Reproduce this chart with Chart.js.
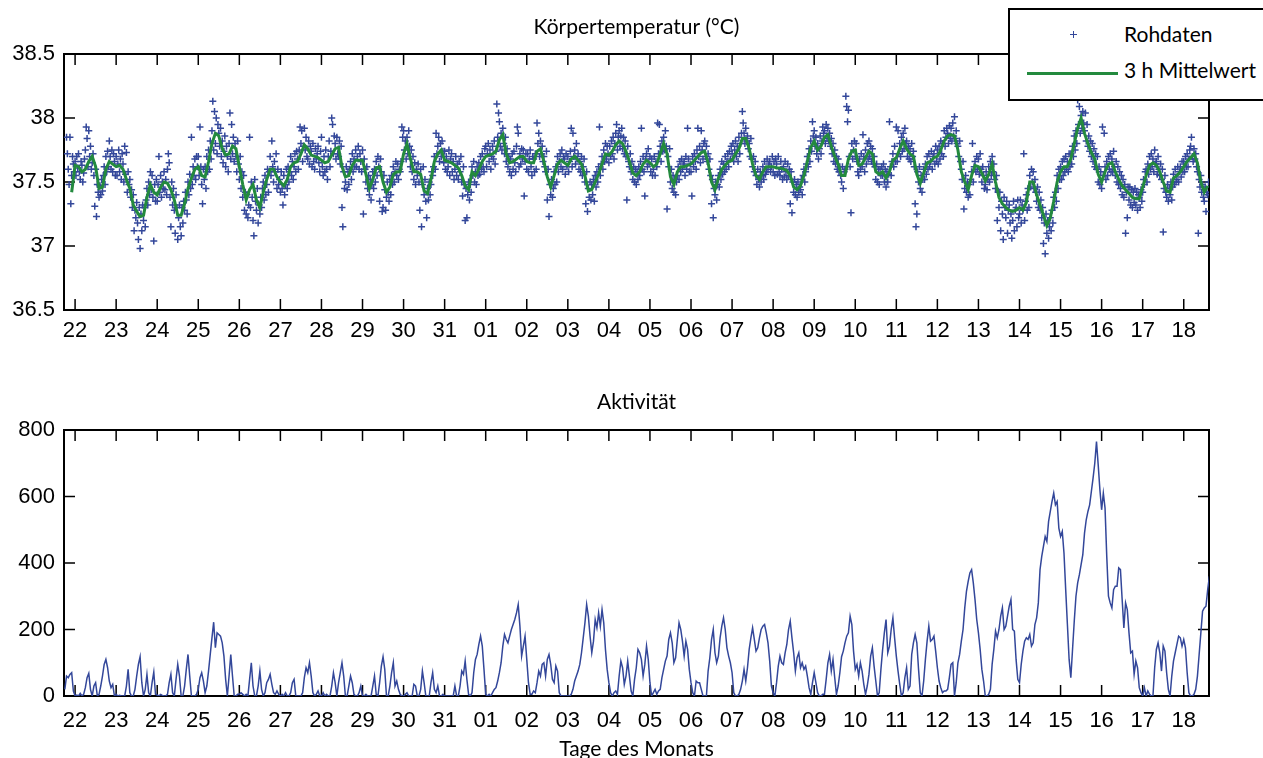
<!DOCTYPE html>
<html lang="de">
<head>
<meta charset="utf-8">
<title>Körpertemperatur und Aktivität</title>
<script src="https://cdn.jsdelivr.net/npm/chart.js@4.4.1/dist/chart.umd.min.js"></script>
<style>
  html, body { margin: 0; padding: 0; background: #fff; overflow: hidden; }
  #page { position: relative; width: 1263px; height: 758px; overflow: hidden; }
  #tempChart { position: absolute; left: 0; top: 0; }
  #actChart { position: absolute; left: 0; top: 370px; }
  #legend {
    position: absolute; left: 1008px; top: 8px; width: 270px; height: 89px;
    border: 2px solid #000; background: #fff;
    font-family: Lato, "Liberation Sans", sans-serif; font-size: 21px; color: #000;
  }
  #legend .lbl { position: absolute; left: 114px; height: 24px; line-height: 24px; white-space: nowrap; }
  #legend .mark { position: absolute; left: 60px; top: 21px; width: 7px; height: 7px; }
  #legend .mark i { position: absolute; background: #33479a; }
  #legend .mark .h { left: 0; top: 2.75px; width: 7px; height: 1.5px; }
  #legend .mark .v { left: 2.75px; top: 0; width: 1.5px; height: 7px; }
  #legend .line { position: absolute; left: 17px; top: 62px; width: 91px; height: 3px; background: #238a3e; }
</style>
</head>
<body>
<div id="page">
  <canvas id="tempChart" width="1263" height="370"></canvas>
  <canvas id="actChart" width="1263" height="392"></canvas>
  <div id="legend">
    <span class="mark"><i class="h"></i><i class="v"></i></span>
    <span class="lbl" style="top:12px">Rohdaten</span>
    <span class="line"></span>
    <span class="lbl" style="top:48px">3 h Mittelwert</span>
  </div>
</div>
<script>
// ---- data ----
// day index 0 = 22nd (00:00); labels at midnight of each day
const dayLabels = ["22","23","24","25","26","27","28","29","30","31",
                   "01","02","03","04","05","06","07","08","09","10",
                   "11","12","13","14","15","16","17","18"];

// raw temperature readings (°C), one every 30 min, first one 5 h before day 22
const rawStartHour = -5;
const rawStepHours = 0.5;
const rawTemp = [
  37.85,37.72,37.60,37.48,37.85,37.33,37.55,37.70,37.64,37.58,
  // 22
  37.66,37.55,37.70,37.61, 37.72,37.58,37.52,37.66, 37.63,37.50,37.57,37.68, 37.75,37.93,37.84,37.62, 37.90,37.70,37.78,37.60, 37.65,37.72,37.55,37.31,
  37.60,37.23,37.48,37.42, 37.38,37.47,37.40,37.52, 37.43,37.55,37.62,37.48, 37.70,37.58,37.74,37.62, 37.82,37.70,37.60,37.75, 37.58,37.72,37.66,37.55,
  // 23
  37.70,37.55,37.64,37.75, 37.58,37.68,37.52,37.72, 37.64,37.50,37.78,37.56, 37.73,37.42,37.58,37.48, 37.52,37.38,37.44,37.30, 37.40,37.12,37.28,37.22,
  37.34,37.18,37.05,37.30, 36.98,37.25,37.12,37.32, 37.20,37.30,37.15,37.36, 37.45,37.32,37.50,37.40, 37.58,37.44,37.55,37.38, 37.04,37.48,37.35,37.52,
  // 24
  37.35,37.48,37.70,37.42, 37.55,37.38,37.50,37.45, 37.58,37.44,37.52,37.40, 37.60,37.72,37.65,37.38, 37.15,37.50,37.32,37.45, 37.28,37.10,37.40,37.30,
  37.05,37.22,37.32,37.15, 37.08,37.30,37.18,37.35, 37.28,37.42,37.36,37.25, 37.50,37.40,37.56,37.45, 37.85,37.48,37.62,37.55, 37.68,37.52,37.70,37.62,
  // 25
  37.70,37.55,37.93,37.62, 37.48,37.33,37.60,37.52, 37.62,37.45,37.70,37.58, 37.75,37.60,37.82,37.68, 37.90,38.13,37.75,38.05, 37.80,38.00,37.72,37.95,
  37.88,37.78,37.92,37.70, 37.82,37.65,37.74,37.86, 37.62,37.78,37.70,37.58, 37.80,38.04,37.68,37.95, 37.72,37.85,37.66,37.80, 37.70,37.58,37.82,37.64,
  // 26
  37.52,37.70,37.45,37.58, 37.38,37.55,37.28,37.42, 37.25,37.40,37.22,37.32, 37.85,37.30,37.50,37.38, 37.20,37.08,37.52,37.35, 37.28,37.45,37.18,37.32,
  37.25,37.38,37.30,37.45, 37.50,37.36,37.55,37.40, 37.48,37.60,37.42,37.58, 37.70,37.55,37.82,37.62, 37.50,37.66,37.58,37.72, 37.45,37.60,37.48,37.52,
  // 27
  37.42,37.58,37.45,37.32, 37.55,37.40,37.48,37.60, 37.45,37.62,37.50,37.58, 37.70,37.55,37.66,37.52, 37.62,37.72,37.58,37.74, 37.68,37.60,37.75,37.93,
  37.80,37.90,37.66,37.78, 37.92,37.75,37.85,37.70, 37.68,37.82,37.64,37.78, 37.74,37.62,37.80,37.66, 37.60,37.76,37.68,37.72, 37.78,37.65,37.58,37.74,
  // 28
  37.85,37.62,37.55,37.70, 37.58,37.75,37.60,37.52, 37.70,37.82,37.62,37.74, 38.00,37.95,37.72,37.86, 37.80,37.68,37.85,37.72, 37.70,37.82,37.64,37.78,
  37.30,37.15,37.58,37.45, 37.50,37.62,37.44,37.58, 37.48,37.60,37.66,37.52, 37.72,37.58,37.68,37.62, 37.75,37.62,37.70,37.78, 37.60,37.72,37.66,37.58,
  // 29
  37.75,37.25,37.68,37.60, 37.50,37.62,37.45,37.55, 37.40,37.52,37.36,37.48, 37.58,37.45,37.60,37.50, 37.66,37.55,37.70,37.62, 37.35,37.68,37.58,37.27,
  37.30,37.55,37.44,37.28, 37.38,37.50,37.42,37.35, 37.52,37.40,37.55,37.48, 37.62,37.50,37.58,37.66, 37.55,37.64,37.52,37.60, 37.58,37.66,37.93,37.85,
  // 30
  37.90,37.75,37.82,37.68, 37.85,37.72,37.90,37.78, 37.62,37.75,37.58,37.70, 37.52,37.65,37.48,37.60, 37.55,37.64,37.50,37.28, 37.60,37.15,37.48,37.62,
  37.40,37.52,37.35,37.22, 37.45,37.36,37.50,37.40, 37.48,37.58,37.55,37.62, 37.70,37.60,37.88,37.72, 37.78,37.85,37.66,37.80, 37.70,37.82,37.74,37.65,
  // 31
  37.74,37.60,37.70,37.58, 37.62,37.75,37.55,37.68, 37.72,37.58,37.66,37.52, 37.60,37.70,37.55,37.64, 37.52,37.66,37.58,37.70, 37.50,37.39,37.62,37.48,
  37.20,37.45,37.22,37.40, 37.50,37.36,37.48,37.42, 37.62,37.55,37.66,37.50, 37.58,37.48,37.62,37.55, 37.65,37.56,37.70,37.60, 37.72,37.62,37.58,37.76,
  // 01
  37.78,37.62,37.72,37.80, 37.66,37.75,37.60,37.70, 37.78,37.68,37.82,37.64, 37.74,38.11,37.85,38.04, 37.97,37.78,37.88,37.75, 37.92,37.80,37.72,37.85,
  37.66,37.76,37.62,37.70, 37.58,37.68,37.55,37.72, 37.60,37.74,37.65,37.58, 37.78,37.93,37.88,37.62, 37.72,37.64,37.76,37.68, 37.75,37.39,37.66,37.72,
  // 02
  37.60,37.72,37.58,37.68, 37.75,37.62,37.55,37.70, 37.68,37.58,37.72,37.60, 37.96,37.80,37.88,37.70, 37.82,37.72,37.78,37.66, 37.70,37.62,37.58,37.74,
  37.36,37.60,37.23,37.48, 37.40,37.52,37.38,37.45, 37.58,37.48,37.62,37.50, 37.70,37.58,37.66,37.72, 37.62,37.75,37.60,37.70, 37.68,37.56,37.72,37.62,
  // 03
  37.70,37.58,37.66,37.74, 37.92,37.62,37.88,37.70, 37.75,37.64,37.80,37.68, 37.72,37.60,37.66,37.58, 37.70,37.55,37.62,37.68, 37.50,37.33,37.58,37.27,
  37.45,37.38,37.50,37.36, 37.48,37.40,37.52,37.35, 37.55,37.46,37.58,37.50, 37.62,37.93,37.55,37.64, 37.70,37.60,37.75,37.66, 37.80,37.68,37.78,37.72,
  // 04
  37.65,37.78,37.70,37.82, 37.72,37.85,37.68,37.80, 37.88,37.95,37.75,37.85, 37.90,37.78,37.86,37.92, 37.76,37.85,37.72,37.82, 37.70,37.36,37.78,37.66,
  37.62,37.72,37.58,37.66, 37.52,37.62,37.50,37.60, 37.48,37.58,37.52,37.62, 37.55,37.66,37.92,37.60, 37.70,37.58,37.39,37.68, 37.72,37.62,37.76,37.64,
  // 05
  37.70,37.58,37.68,37.55, 37.60,37.70,37.55,37.66, 37.62,37.96,37.72,37.95, 37.78,37.66,37.82,37.74, 37.85,37.75,37.90,37.78, 37.29,37.70,37.62,37.76,
  37.50,37.60,37.45,37.55, 37.42,37.52,37.40,37.50, 37.55,37.62,37.52,37.66, 37.58,37.68,37.60,37.64, 37.66,37.55,37.70,37.60, 37.92,37.68,37.58,37.64,
  // 06
  37.58,37.39,37.70,37.62, 37.72,37.66,37.60,37.75, 37.92,37.70,37.78,37.65, 37.90,37.75,37.68,37.80, 37.82,37.70,37.78,37.66, 37.72,37.60,37.68,37.55,
  37.33,37.52,37.22,37.45, 37.40,37.50,37.36,37.48, 37.55,37.46,37.60,37.52, 37.66,37.56,37.64,37.58, 37.70,37.60,37.66,37.72, 37.62,37.74,37.68,37.78,
  // 07
  37.72,37.80,37.66,37.75, 37.82,37.70,37.78,37.66, 37.85,37.72,37.80,37.88, 38.05,37.96,37.88,37.80, 37.92,37.82,37.86,37.76, 37.80,37.70,37.84,37.68,
  37.62,37.70,37.58,37.66, 37.55,37.48,37.60,37.52, 37.46,37.58,37.50,37.55, 37.62,37.52,37.66,37.56, 37.58,37.68,37.60,37.64, 37.66,37.58,37.62,37.70,
  // 08
  37.58,37.66,37.55,37.68, 37.64,37.56,37.70,37.58, 37.55,37.66,37.60,37.52, 37.62,37.54,37.66,37.58, 37.52,37.64,37.55,37.60, 37.33,37.58,37.26,37.50,
  37.42,37.52,37.40,37.48, 37.38,37.50,37.42,37.46, 37.44,37.52,37.40,37.55, 37.60,37.50,37.58,37.64, 37.70,37.62,37.76,37.66, 37.82,37.74,37.97,37.86,
  // 09
  37.90,37.78,37.85,37.72, 37.80,37.68,37.76,37.86, 37.72,37.82,37.93,37.88, 37.90,37.80,37.95,37.84, 37.92,37.82,37.88,37.78, 37.84,37.72,37.80,37.66,
  37.75,37.64,37.70,37.60, 37.68,37.58,37.62,37.55, 37.50,37.62,37.45,37.58, 37.60,38.17,38.09,37.97, 38.06,37.70,37.62,37.26, 37.80,37.68,37.75,37.82,
  // 10
  37.70,37.80,37.66,37.58, 37.55,37.68,37.60,37.72, 37.62,37.87,37.70,37.58, 37.75,37.64,37.80,37.68, 37.82,37.70,37.78,37.66, 37.76,37.64,37.70,37.62,
  37.52,37.64,37.50,37.60, 37.48,37.60,37.55,37.62, 37.55,37.64,37.50,37.60, 37.46,37.58,37.50,37.56, 37.97,37.62,37.55,37.66, 37.72,37.62,37.78,37.66,
  // 11
  37.93,37.66,37.90,37.72, 37.80,37.70,37.85,37.74, 37.88,37.76,37.92,37.80, 37.82,37.70,37.78,37.68, 37.76,37.66,37.80,37.70, 37.74,37.62,37.33,37.15,
  37.25,37.58,37.50,37.62, 37.45,37.55,37.42,37.52, 37.60,37.52,37.64,37.56, 37.70,37.60,37.72,37.62, 37.66,37.74,37.60,37.70, 37.72,37.64,37.78,37.66,
  // 12
  37.75,37.64,37.78,37.68, 37.82,37.72,37.80,37.70, 37.90,37.78,37.85,37.92, 37.88,37.80,37.94,37.84, 37.92,37.82,37.96,37.86, 38.01,37.84,37.90,37.80,
  37.78,37.70,37.82,37.66, 37.60,37.52,37.66,37.29, 37.45,37.55,37.42,37.50, 37.38,37.48,37.40,37.52, 37.58,37.80,37.50,37.62, 37.66,37.58,37.70,37.60,
  // 13
  37.68,37.56,37.72,37.60, 37.50,37.62,37.55,37.45, 37.48,37.58,37.44,37.52, 37.62,37.50,37.66,37.55, 37.70,37.58,37.64,37.52, 37.45,37.55,37.20,37.42,
  37.30,37.42,37.12,37.35, 37.25,37.05,37.38,37.30, 37.22,37.35,37.10,37.28, 37.32,37.18,37.25,37.06, 37.20,37.35,37.12,37.28, 37.30,37.15,37.36,37.22,
  // 14
  37.25,37.36,37.18,37.32, 37.28,37.72,37.20,37.35, 37.40,37.28,37.45,37.30, 37.55,37.46,37.60,37.50, 37.58,37.45,37.52,37.42, 37.35,37.46,37.30,37.42,
  37.28,37.36,37.22,37.30, 37.02,37.18,36.94,37.25, 37.10,37.20,37.06,37.15, 37.22,37.12,37.28,37.18, 37.38,37.30,37.42,37.35, 37.55,37.45,37.60,37.52,
  // 15
  37.62,37.52,37.66,37.55, 37.68,37.58,37.70,37.60, 37.66,37.58,37.72,37.62, 37.72,37.64,37.78,37.70, 37.86,37.75,37.90,37.80, 38.14,37.95,38.09,37.88,
  38.02,37.92,38.05,37.96, 37.90,38.04,37.82,37.95, 37.78,37.86,37.74,37.82, 37.70,37.80,37.66,37.76, 37.62,37.72,37.60,37.70, 37.50,37.62,37.48,37.58,
  // 16
  37.45,37.93,37.55,37.88, 37.62,37.52,37.66,37.55, 37.70,37.60,37.72,37.58, 37.68,37.58,37.74,37.62, 37.55,37.66,37.50,37.62, 37.48,37.58,37.45,37.55,
  37.40,37.52,37.38,37.48, 37.10,37.42,37.22,37.46, 37.36,37.46,37.32,37.44, 37.30,37.42,37.34,37.45, 37.32,37.42,37.28,37.40, 37.38,37.30,37.44,37.35,
  // 17
  37.42,37.52,37.48,37.58, 37.60,37.50,37.64,37.56, 37.70,37.60,37.72,37.62, 37.68,37.58,37.75,37.64, 37.66,37.56,37.70,37.60, 37.55,37.64,37.52,37.60,
  37.11,37.45,37.55,37.42, 37.38,37.48,37.35,37.45, 37.40,37.50,37.36,37.46, 37.56,37.48,37.60,37.50, 37.52,37.62,37.50,37.58, 37.62,37.54,37.66,37.58,
  // 18
  37.66,37.58,37.70,37.62, 37.72,37.62,37.68,37.75, 37.78,37.85,37.70,37.66, 37.76,37.68,37.72,37.62, 37.58,37.10,37.52,37.46, 37.55,37.42,37.48,37.38,
  37.35,37.46,37.27,37.42, 37.40,37.50
];

// 3 h running mean (°C), read every 2 h, first value 2 h before day 22
const meanStartHour = -2;
const meanStepHours = 2;
const meanTemp = [
  37.42,
  37.63,37.62,37.58,37.60,37.66,37.70,37.62,37.45,37.46,37.60,37.66,37.64, // 22
  37.62,37.63,37.60,37.52,37.45,37.32,37.27,37.23,37.24,37.38,37.48,37.42, // 23
  37.40,37.46,37.50,37.49,37.44,37.36,37.24,37.24,37.33,37.45,37.53,37.60, // 24
  37.62,37.55,37.54,37.66,37.80,37.88,37.86,37.76,37.71,37.72,37.78,37.76, // 25
  37.62,37.48,37.36,37.44,37.48,37.36,37.30,37.42,37.52,37.60,37.60,37.54, // 26
  37.50,37.47,37.52,37.62,37.65,37.66,37.72,37.79,37.76,37.71,37.70,37.69, // 27
  37.67,37.65,37.66,37.71,37.76,37.77,37.62,37.54,37.55,37.63,37.67,37.67, // 28
  37.67,37.56,37.45,37.52,37.61,37.62,37.50,37.42,37.46,37.56,37.58,37.58, // 29
  37.72,37.80,37.68,37.58,37.58,37.56,37.43,37.41,37.52,37.66,37.72,37.75, // 30
  37.67,37.66,37.65,37.63,37.61,37.55,37.47,37.44,37.58,37.55,37.60,37.66, // 31
  37.70,37.71,37.72,37.74,37.83,37.87,37.72,37.65,37.66,37.68,37.70,37.70, // 01
  37.66,37.65,37.65,37.74,37.76,37.66,37.54,37.46,37.55,37.64,37.67,37.65, // 02
  37.63,37.68,37.70,37.67,37.64,37.55,37.43,37.44,37.50,37.56,37.64,37.72, // 03
  37.71,37.74,37.79,37.82,37.80,37.74,37.66,37.57,37.55,37.58,37.64,37.67, // 04
  37.65,37.62,37.64,37.72,37.80,37.72,37.54,37.48,37.58,37.62,37.62,37.63, // 05
  37.64,37.67,37.70,37.73,37.74,37.65,37.50,37.44,37.53,37.60,37.63,37.66, // 06
  37.67,37.72,37.76,37.84,37.84,37.76,37.64,37.55,37.52,37.58,37.62,37.62, // 07
  37.62,37.61,37.61,37.60,37.59,37.55,37.46,37.44,37.47,37.55,37.66,37.77, // 08
  37.82,37.75,37.78,37.85,37.87,37.78,37.70,37.64,37.55,37.55,37.68,37.74, // 09
  37.75,37.63,37.64,37.69,37.74,37.72,37.58,37.56,37.58,37.53,37.58,37.67, // 10
  37.69,37.76,37.82,37.76,37.72,37.70,37.56,37.49,37.57,37.65,37.66,37.69, // 11
  37.70,37.75,37.82,37.86,37.87,37.86,37.75,37.58,37.50,37.44,37.55,37.63, // 12
  37.62,37.57,37.51,37.56,37.64,37.50,37.38,37.33,37.30,37.28,37.27,37.28, // 13
  37.30,37.28,37.34,37.50,37.50,37.40,37.32,37.24,37.16,37.22,37.35,37.50, // 14
  37.58,37.62,37.62,37.68,37.80,37.92,38.00,37.88,37.80,37.73,37.68,37.56, // 15
  37.50,37.58,37.64,37.65,37.58,37.52,37.47,37.44,37.41,37.38,37.37,37.37, // 16
  37.46,37.55,37.63,37.65,37.63,37.58,37.50,37.43,37.42,37.53,37.55,37.58, // 17
  37.62,37.66,37.69,37.72,37.65,37.50,37.42,37.47                          // 18
];

// activity counts, one per hour, first value 6 h before day 22
const actStartHour = -6;
const actStepHours = 1;
const activity = [
  20,60,55,65,70,15,
  0,3,0,8,0,5,25,55,68,20,0,30,40,0,5,30,60,95,110,85,45,25,35,0,                    // 22
  5,0,2,0,0,0,30,80,10,0,0,20,60,95,118,40,0,20,65,10,0,40,72,5,                     // 23
  3,0,5,2,0,0,5,40,65,10,0,50,95,60,0,0,30,80,125,60,0,0,0,5,                        // 24
  20,55,70,45,10,30,75,125,175,222,145,190,185,180,160,120,50,0,60,125,60,0,0,5,     // 25
  5,10,5,0,5,0,50,100,30,0,0,30,75,20,0,10,40,50,65,35,10,5,15,5,                    // 26
  0,5,0,10,0,0,10,40,50,0,0,0,0,10,55,85,70,100,60,10,0,5,15,0,                      // 27
  0,10,0,5,0,0,30,70,40,0,40,70,100,60,0,0,30,60,40,5,0,0,10,30,                     // 28
  0,0,5,0,0,0,30,60,5,0,40,90,118,80,0,0,30,70,100,30,45,20,5,0,                     // 29
  0,5,10,0,0,0,35,30,0,0,20,75,40,0,0,0,40,70,20,10,30,0,0,5,                        // 30
  0,0,0,0,0,0,30,0,0,30,75,65,105,50,5,0,10,70,110,125,155,180,150,80,               // 31
  5,0,5,0,10,20,25,45,70,100,150,185,170,160,180,200,215,230,250,275,210,120,150,180, // 01
  110,40,5,5,15,10,40,75,60,95,100,60,110,125,95,50,40,90,75,10,0,0,0,0,             // 02
  0,0,5,20,45,60,75,95,130,175,220,275,240,180,130,165,230,205,250,210,260,220,140,80, // 03
  40,10,0,10,15,5,60,105,85,35,60,105,60,15,0,50,85,140,130,110,60,95,150,110,       // 04
  40,0,10,20,5,15,20,55,80,105,120,170,190,160,100,115,170,220,200,165,120,165,140,80, // 05
  40,10,0,45,40,40,20,0,0,0,75,115,170,200,130,100,120,175,210,235,200,145,120,100,  // 06
  70,10,0,0,5,20,45,80,45,85,140,175,205,170,135,145,175,200,210,215,190,160,105,30, // 07
  10,0,40,90,120,100,95,130,155,200,225,175,130,75,115,130,85,100,80,90,60,25,5,40,  // 08
  70,40,10,0,0,5,5,50,100,125,75,110,55,5,30,70,118,135,160,180,190,240,215,135,     // 09
  80,95,60,100,75,35,5,30,65,120,145,90,45,0,10,80,140,190,230,130,150,200,235,175,  // 10
  120,75,35,0,10,55,85,20,30,125,160,185,160,80,10,0,45,110,165,210,165,170,180,135, // 11
  85,45,25,10,15,15,20,55,95,100,0,40,100,125,165,200,265,315,345,370,380,340,290,230, // 12
  190,140,80,45,0,0,5,20,95,140,195,175,200,240,265,200,210,240,270,290,200,195,110,50, // 13
  40,95,135,165,175,170,185,150,160,215,235,280,380,420,450,480,465,525,555,585,610,575,585,505, // 14
  480,495,430,320,215,110,55,140,225,300,340,365,395,425,490,530,555,575,615,655,700,765,695,620, // 15
  560,610,565,420,300,280,265,320,330,330,385,380,290,205,280,260,190,130,135,65,105,85,25,10,   // 16
  0,25,0,15,5,0,0,85,140,160,130,75,150,135,70,20,0,60,105,130,155,180,175,150,      // 17
  170,145,70,10,0,0,5,20,60,125,190,255,265,270,320,360                             // 18
];

const tempTicks = [36.5, 37, 37.5, 38, 38.5];
const actTicks = [0, 200, 400, 600, 800];

// ---- helpers ----
const X_MIN = -0.27, X_MAX = 27.615;
const BLUE = "#33479a";
const GREEN = "#238a3e";
const tickFont = { family: "'Liberation Sans', Arial, sans-serif", size: 22 };
const titleFont = { family: "Lato, 'Liberation Sans', sans-serif", size: 21, weight: "normal" };

function toPoints(values, startHour, stepHours) {
  return values.map((v, i) => ({ x: (startHour + i * stepHours) / 24, y: v }));
}

// box around the plot area with inward tick marks on all four sides
const boxTicks = {
  id: "boxTicks",
  beforeDatasetsDraw(chart) {
    const { ctx, chartArea: a, scales: { x, y } } = chart;
    const len = 11;
    ctx.save();
    ctx.strokeStyle = "#000";
    ctx.lineWidth = 1.5;
    ctx.beginPath();
    x.ticks.forEach((t) => {
      const px = x.getPixelForValue(t.value);
      ctx.moveTo(px, a.bottom); ctx.lineTo(px, a.bottom - len);
      ctx.moveTo(px, a.top); ctx.lineTo(px, a.top + len);
    });
    y.ticks.forEach((t) => {
      const py = y.getPixelForValue(t.value);
      ctx.moveTo(a.left, py); ctx.lineTo(a.left + len, py);
      ctx.moveTo(a.right, py); ctx.lineTo(a.right - len, py);
    });
    ctx.stroke();
    ctx.lineWidth = 2;
    ctx.strokeRect(a.left, a.top, a.right - a.left, a.bottom - a.top);
    ctx.restore();
  },
};

function xScale(axisHeight, labelPad, title) {
  return {
    type: "linear",
    min: X_MIN,
    max: X_MAX,
    afterBuildTicks: (s) => { s.ticks = dayLabels.map((_, i) => ({ value: i })); },
    afterFit: (s) => { s.height = axisHeight; },
    grid: { display: false, drawTicks: false },
    border: { display: false },
    ticks: {
      autoSkip: false, maxRotation: 0, padding: labelPad,
      font: tickFont, color: "#000",
      callback: (v) => dayLabels[v],
    },
    title: title
      ? { display: true, text: title, font: titleFont, color: "#000", padding: 0 }
      : { display: false },
  };
}

// empty axis on top of the plot, only used to carry the panel title centred over the plot
function titleScale(text, height, padTop) {
  return {
    type: "linear",
    position: "top",
    min: X_MIN,
    max: X_MAX,
    afterFit: (s) => { s.height = height; },
    grid: { display: false, drawTicks: false },
    border: { display: false },
    ticks: { display: false },
    title: { display: true, text, font: titleFont, color: "#000", padding: { top: padTop, bottom: 0 } },
  };
}

function yScale(min, max, ticks) {
  return {
    min, max,
    afterBuildTicks: (s) => { s.ticks = ticks.map((v) => ({ value: v })); },
    afterFit: (s) => { s.width = 64; },
    grid: { display: false, drawTicks: false },
    border: { display: false },
    ticks: { padding: 9, font: tickFont, color: "#000", callback: (v) => String(v) },
  };
}

// ---- Körpertemperatur ----
new Chart(document.getElementById("tempChart"), {
  type: "scatter",
  data: {
    datasets: [
      {
        label: "3 h Mittelwert",
        data: toPoints(meanTemp, meanStartHour, meanStepHours),
        showLine: true,
        borderColor: GREEN,
        borderWidth: 3,
        pointRadius: 0,
        order: 0,
      },
      {
        label: "Rohdaten",
        data: toPoints(rawTemp, rawStartHour, rawStepHours),
        pointStyle: "cross",
        pointRadius: 3.5,
        borderColor: BLUE,
        backgroundColor: BLUE,
        borderWidth: 1.5,
        order: 1,
      },
    ],
  },
  options: {
    responsive: false,
    animation: false,
    events: [],
    layout: { padding: { left: 0, right: 54, top: 0, bottom: 0 } },
    plugins: { legend: { display: false }, tooltip: { enabled: false } },
    scales: {
      x: xScale(60, 8),
      top: titleScale("Körpertemperatur (°C)", 54, 15),
      y: yScale(36.5, 38.5, tempTicks),
    },
  },
  plugins: [boxTicks],
});

// ---- Aktivität ----
new Chart(document.getElementById("actChart"), {
  type: "line",
  data: {
    datasets: [
      {
        label: "Aktivität",
        data: toPoints(activity, actStartHour, actStepHours),
        borderColor: BLUE,
        borderWidth: 1.5,
        pointRadius: 0,
        tension: 0,
        fill: false,
      },
    ],
  },
  options: {
    responsive: false,
    animation: false,
    events: [],
    layout: { padding: { left: 0, right: 54, top: 0, bottom: 0 } },
    plugins: { legend: { display: false }, tooltip: { enabled: false } },
    scales: {
      x: xScale(66, 12, "Tage des Monats"),
      top: titleScale("Aktivität", 60, 20),
      y: yScale(0, 800, actTicks),
    },
  },
  plugins: [boxTicks],
});
</script>
</body>
</html>
